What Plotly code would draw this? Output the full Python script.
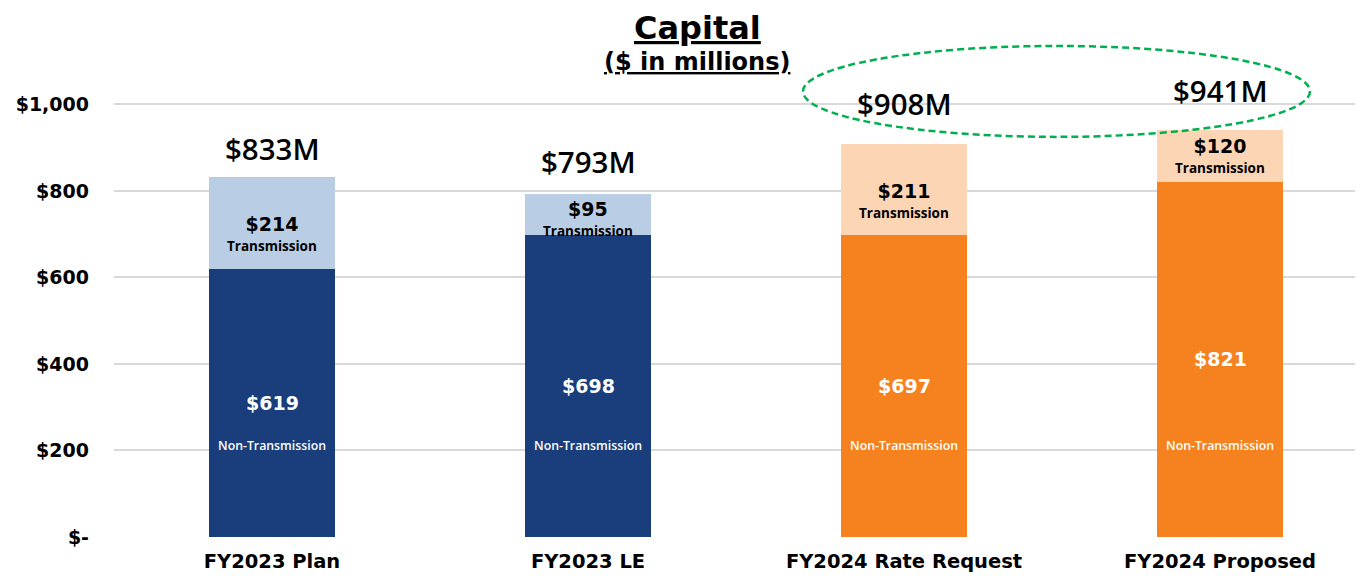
import plotly.graph_objects as go

categories = ["FY2023 Plan", "FY2023 LE", "FY2024 Rate Request", "FY2024 Proposed"]
non_transmission = [619, 698, 697, 821]
transmission = [214, 95, 211, 120]
totals = [833, 793, 908, 941]
y_ticks = [0, 200, 400, 600, 800, 1000]
y_tick_labels = ["$-", "$200", "$400", "$600", "$800", "$1,000"]

dark_colors = ["#1a3e7b", "#1a3e7b", "#f5821f", "#f5821f"]
light_colors = ["#b9cde5", "#b9cde5", "#fcd5b4", "#fcd5b4"]
total_lift = [6, 10, 18, 17]
trans_block_lift = [-11, -4, -11, 0]

VERD = "DejaVu Sans"
CAL = "Open Sans"

# page body has an 8px margin: figure coords = screen coords - 8
OFF = 8
PX_PER_UNIT = 0.433
L = 114 - OFF
ZERO = 537.5 - OFF
H = 576
W = 1363
PLOT_W = W - L


def px(sx):
    return (sx - 114) / PLOT_W


def py(sy):
    return (537.5 - sy) / ZERO


fig = go.Figure()
fig.add_trace(go.Bar(x=categories, y=non_transmission, marker=dict(color=dark_colors, line=dict(width=0)),
                     width=0.4, name="Non-Transmission", hoverinfo="skip"))
fig.add_trace(go.Bar(x=categories, y=transmission, marker=dict(color=light_colors, line=dict(width=0)),
                     width=0.4, name="Transmission", hoverinfo="skip"))

ann = []
for i, c in enumerate(categories):
    nt, t, tot = non_transmission[i], transmission[i], totals[i]
    ann.append(dict(x=c, y=tot, text=f"${tot}M", showarrow=False, yanchor="bottom",
                    yshift=total_lift[i], font=dict(family=CAL, size=29.5, color="black", weight=600)))
    block = (f"<span style='font-family:{VERD};font-size:19px;font-weight:bold'>${t}</span><br>"
             f"<span style='font-family:{CAL};font-size:13.5px;font-weight:700'>Transmission</span>")
    ann.append(dict(x=c, y=nt + t / 2, text=block, showarrow=False, yanchor="middle", borderpad=0,
                    yshift=trans_block_lift[i], font=dict(family=CAL, size=15, color="black")))
    ann.append(dict(x=c, y=nt / 2, text=f"<b>${nt}</b>", showarrow=False, yanchor="middle",
                    font=dict(family=VERD, size=19, color="white")))
    ann.append(dict(x=c, y=211, text="Non-Transmission", showarrow=False, yanchor="middle",
                    font=dict(family=CAL, size=12.3, color="white", weight=600)))

ann.append(dict(xref="paper", yref="paper", x=px(697), y=py(28), borderpad=0,
                text="<u>Capital</u>", showarrow=False, xanchor="center", yanchor="middle",
                font=dict(family=VERD, size=32, color="black", weight=700)))
ann.append(dict(xref="paper", yref="paper", x=px(697), y=py(62), borderpad=0,
                text="<u>($ in millions)</u>", showarrow=False, xanchor="center", yanchor="middle",
                font=dict(family=VERD, size=24, color="black", weight=700)))

fig.update_layout(
    barmode="stack",
    width=W, height=H,
    margin=dict(l=L, r=0, t=0, b=H - ZERO, autoexpand=False),
    plot_bgcolor="white", paper_bgcolor="white",
    showlegend=False,
    annotations=ann,
    shapes=[dict(type="circle", xref="paper", yref="paper",
                 x0=px(803), x1=px(1310), y0=py(137), y1=py(46),
                 line=dict(color="#00b050", width=2.5, dash="7px,4px"))],
    xaxis=dict(type="category", range=[-0.5, -0.5 + PLOT_W / 316], showgrid=False, showline=False,
               zeroline=False, tickfont=dict(family=VERD, size=19.5, color="black", weight=700),
               ticks="", ticklabelstandoff=10, automargin=False),
    yaxis=dict(range=[0, ZERO / PX_PER_UNIT], tickvals=y_ticks, ticktext=y_tick_labels,
               showgrid=True, gridcolor="#d9d9d9", gridwidth=2, zeroline=False, showline=False,
               tickfont=dict(family=VERD, size=19, color="black", weight=700), ticks="",
               ticklabelstandoff=24, automargin=False),
)

fig.write_html("out.html")
